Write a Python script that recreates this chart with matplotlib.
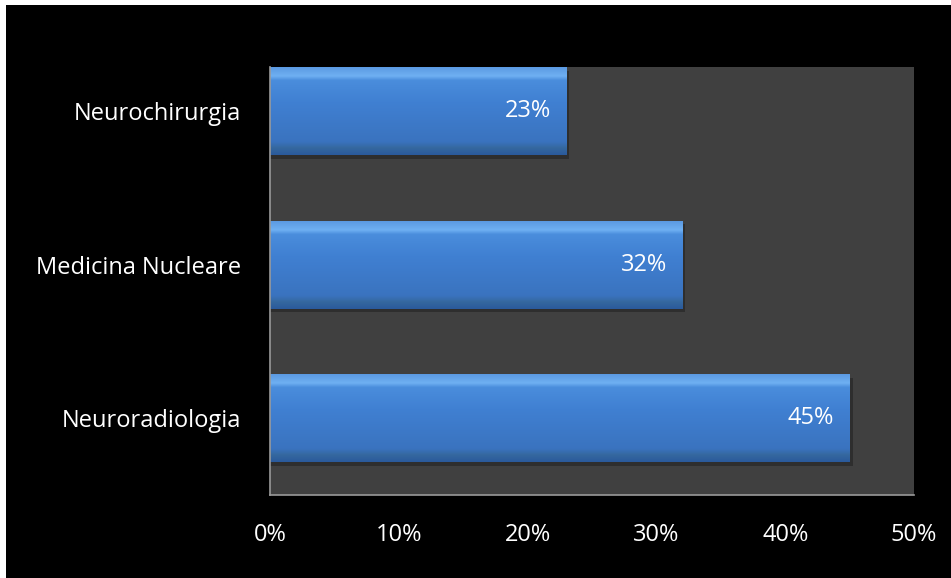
import numpy as np
import matplotlib
matplotlib.use('Agg')
import matplotlib.pyplot as plt
from matplotlib.patches import Rectangle
from matplotlib.colors import LinearSegmentedColormap

# dati
categorie = ['Neuroradiologia', 'Medicina Nucleare', 'Neurochirurgia']
valori = [45, 32, 23]
tick_x = [0, 10, 20, 30, 40, 50]

plt.rcParams['font.family'] = ['Open Sans', 'DejaVu Sans']

fig = plt.figure(figsize=(9.51, 5.78), dpi=100)
fig.patch.set_facecolor('white')
# sfondo nero con sottile bordo bianco in alto e a sinistra
fig.patches.append(Rectangle((6/951, 0), 1, 1 - 5/578, transform=fig.transFigure,
                             facecolor='black', edgecolor='none', zorder=-10))

ax = fig.add_axes([270/951, 83/578, 644/951, 428/578])
ax.set_zorder(5)
ax.set_facecolor('#404040')

y = np.arange(len(categorie))
h = 0.573
bars = ax.barh(y, valori, height=h, color='#3d7bcc', zorder=2)

# gradiente verticale sulle barre
cmap = LinearSegmentedColormap.from_list('blu', [
    (0.0, '#2a5a9c'), (0.08, '#35689f'), (0.15, '#3a73bf'),
    (0.6, '#4080d2'), (0.85, '#4a8ddc'), (0.9, '#6fb0f2'), (1.0, '#5b9ae2')])
grad = np.linspace(0, 1, 256).reshape(-1, 1)
for b in bars:
    x0, y0, w, hh = b.get_x(), b.get_y(), b.get_width(), b.get_height()
    # ombra
    ax.add_patch(Rectangle((x0, y0 - 0.025), w + 0.25, hh, facecolor='#222222',
                           edgecolor='none', alpha=0.6, zorder=1.5))
    im = ax.imshow(grad, cmap=cmap, aspect='auto', origin='lower',
                   extent=(x0, x0 + w, y0, y0 + hh), zorder=2.5)
    im.set_clip_path(b)

for yi, v in zip(y, valori):
    ax.annotate(f'{v}%', (v, yi), xytext=(-11, 0), textcoords='offset points',
                ha='right', va='center', color='white', fontsize=17, zorder=3)

ax.set_xlim(0, 50)
ax.set_ylim(-0.5, 2.287)
ax.set_xticks(tick_x)
ax.set_xticklabels([f'{t}%' for t in tick_x])
ax.set_yticks(y)
ax.set_yticklabels(categorie)
ax.tick_params(axis='both', length=0, colors='white', labelsize=17)
ax.tick_params(axis='x', pad=20)
ax.tick_params(axis='y', pad=21)

for s in ['top', 'right']:
    ax.spines[s].set_visible(False)
for s in ['left', 'bottom']:
    ax.spines[s].set_color('#9a9a9a')
    ax.spines[s].set_linewidth(1.2)

fig.savefig('out.png', dpi=100, facecolor=fig.get_facecolor())
